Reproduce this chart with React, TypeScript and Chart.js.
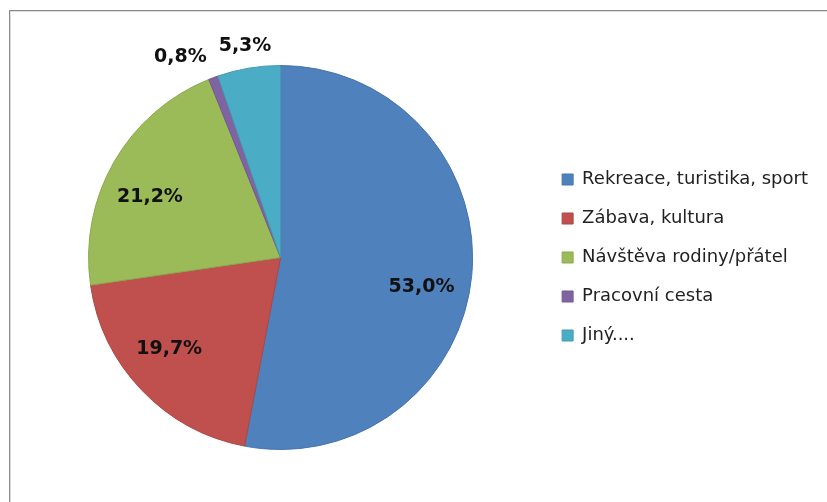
import React, { useEffect, useRef } from "react";
import { Chart, registerables } from "chart.js";

Chart.register(...registerables);

const categories = [
  "Rekreace, turistika, sport",
  "Zábava, kultura",
  "Návštěva rodiny/přátel",
  "Pracovní cesta",
  "Jiný....",
];
const shares = [53.0, 19.7, 21.2, 0.8, 5.3];
const sliceColors = ["#4F81BD", "#C0504D", "#9BBB59", "#8064A2", "#4BACC6"];
const sliceBorders = ["#4674ab", "#ad4745", "#8ba84f", "#735a92", "#439ab2"];
// small best-fit angle adjustments (degrees) for the inside labels
const labelAngleNudge = [6.5, 4.4, -5, 0, 0];

const formatShare = (v: number) => v.toFixed(1).replace(".", ",") + "%";

const framePlugin = {
  id: "frame",
  beforeDraw(chart: any) {
    const { ctx, width, height } = chart;
    ctx.save();
    ctx.fillStyle = "#ffffff";
    ctx.fillRect(0, 0, width, height);
    ctx.strokeStyle = "#8a8a8a";
    ctx.lineWidth = 1;
    ctx.strokeRect(9.5, 10.5, width + 20, height + 20);
    ctx.strokeStyle = "#dcdcdc";
    ctx.strokeRect(10.5, 11.5, width + 20, height + 20);
    ctx.restore();
  },
};

const labelPlugin = {
  id: "sliceLabels",
  afterDatasetsDraw(chart: any) {
    const { ctx } = chart;
    const meta = chart.getDatasetMeta(0);
    const data = chart.data.datasets[0].data as number[];
    const total = data.reduce((a, b) => a + b, 0);
    ctx.save();
    ctx.font = "bold 19px 'DejaVu Sans'";
    ctx.fillStyle = "#111111";
    ctx.textAlign = "center";
    ctx.textBaseline = "middle";
    const items = meta.data.map((arc: any, i: number) => {
      const p = arc.getProps(["x", "y", "startAngle", "endAngle", "outerRadius"], true);
      const mid = (p.startAngle + p.endAngle) / 2 + (labelAngleNudge[i] * Math.PI) / 180;
      const pct = (data[i] / total) * 100;
      const outside = pct < 6;
      const f = outside ? 1.117 : 0.75;
      const text = formatShare(data[i]);
      return {
        text,
        outside,
        cx: p.x + Math.cos(mid) * p.outerRadius * f,
        cy: p.y + Math.sin(mid) * p.outerRadius * f,
        w: ctx.measureText(text).width,
      };
    });
    const gap = 12;
    for (let i = items.length - 1; i > 0; i--) {
      const a = items[i];
      const b = items[i - 1];
      if (!a.outside || !b.outside) continue;
      const overlap = b.cx + b.w / 2 + gap - (a.cx - a.w / 2);
      if (overlap > 0) b.cx -= overlap;
    }
    items.forEach((it: any) => ctx.fillText(it.text, it.cx, it.cy));
    ctx.restore();
  },
};

export default function App() {
  const ref = useRef<HTMLCanvasElement | null>(null);
  useEffect(() => {
    document.body.style.margin = "0";
    if (!ref.current) return;
    const chart = new Chart(ref.current, {
      type: "pie",
      data: {
        labels: categories,
        datasets: [
          {
            data: shares,
            backgroundColor: sliceColors,
            borderColor: sliceBorders,
            borderWidth: 1,
          },
        ],
      },
      options: {
        responsive: false,
        animation: false,
        devicePixelRatio: 1,
        layout: { padding: { left: 20, top: 65, bottom: 52, right: 9 } },
        plugins: {
          tooltip: { enabled: false },
          legend: {
            position: "right",
            align: "center",
            labels: {
              boxWidth: 11,
              boxHeight: 11,
              padding: 21,
              color: "#222222",
              font: { family: "'DejaVu Sans'", size: 18 },
            },
          },
        },
      },
      plugins: [framePlugin, labelPlugin],
    });
    return () => chart.destroy();
  }, []);
  return <canvas ref={ref} width={827} height={502} style={{ display: "block" }} />;
}
